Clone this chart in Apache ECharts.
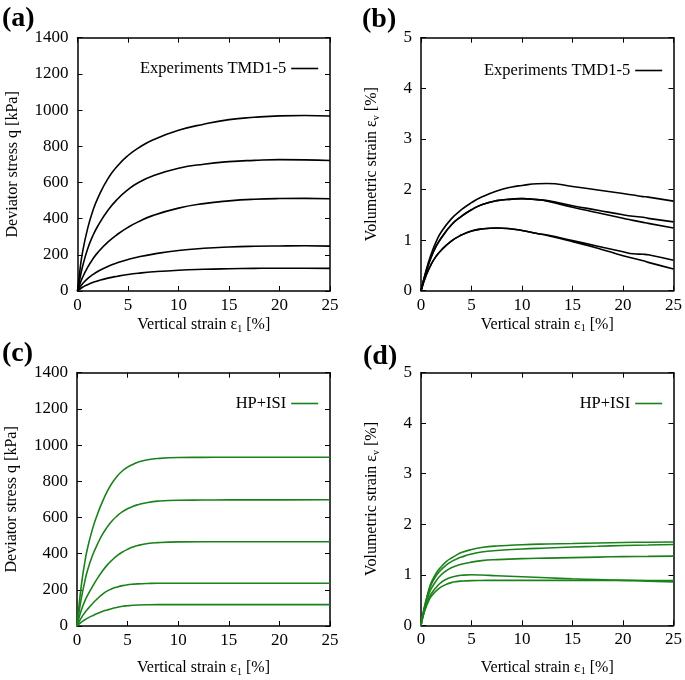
<!DOCTYPE html>
<html>
<head>
<meta charset="utf-8">
<script src="https://cdn.jsdelivr.net/npm/echarts@6/dist/echarts.min.js"></script>
<style>
html,body{margin:0;padding:0;background:#fff;}
#chart{width:685px;height:680px;}
</style>
</head>
<body>
<div id="chart"></div>
<script>
// ---------- data ----------
var strainA = [0,0.25,0.5,1,1.5,2,3,4,5,6,7.5,10,12.5,15,17.5,20,22.5,25];
var qA1 = [0,120,215,345,440,512,620,694,749,790,836,888,922,947,960,968,970,967];
var qA2 = [0,72,135,232,303,358,445,510,560,598,637,678,701,715,722,726,725,721];
var qA3 = [0,40,75,130,175,212,270,315,352,382,418,458,483,498,507,511,512,510];
var qA4 = [0,22,40,68,90,108,136,157,174,188,204,224,236,243,247,249,250,248];
var qA5 = [0,11,21,35,47,56,71,82,91,98,106,115,120,123,125,126,126,125];

var strainB = [0,0.5,1,1.5,2,3,4,5,6,7.5,9,10,11.5,12.5,15,17.5,20,21,22,22.5,25];
var evB1 = [0,0.4,0.72,0.97,1.16,1.42,1.6,1.74,1.85,1.97,2.05,2.08,2.115,2.12,2.06,1.99,1.92,1.89,1.86,1.85,1.77];
var evB2 = [0,0.37,0.66,0.88,1.04,1.3,1.47,1.6,1.7,1.78,1.81,1.82,1.8,1.78,1.68,1.59,1.5,1.47,1.45,1.43,1.36];
var evB3 = [0,0.37,0.66,0.88,1.04,1.3,1.47,1.6,1.7,1.78,1.81,1.82,1.8,1.77,1.65,1.54,1.43,1.39,1.35,1.33,1.24];
var evB4 = [0,0.3,0.52,0.68,0.8,0.98,1.1,1.18,1.22,1.24,1.22,1.19,1.13,1.1,0.99,0.88,0.77,0.73,0.72,0.71,0.6];
var evB5 = [0,0.3,0.52,0.68,0.8,0.98,1.1,1.18,1.22,1.24,1.22,1.19,1.13,1.09,0.97,0.84,0.69,0.64,0.59,0.56,0.43];

var strainC = [0,0.25,0.5,0.75,1,1.5,2,2.5,3,3.5,4,4.5,5,5.5,6,7,8,10,12.5,15,20,25];
var qC1 = [0,140,255,345,420,530,615,685,745,793,830,858,878,893,905,919,926,931,932,933,933,933];
var qC2 = [0,95,175,240,300,385,450,505,548,583,610,632,648,661,670,683,690,695,696,697,697,698];
var qC3 = [0,55,100,135,165,215,262,303,338,366,390,409,424,436,445,456,461,465,466,466,466,466];
var qC4 = [0,28,52,72,90,122,150,175,194,207,216,223,228,231,233,235,236,236,236,236,236,236];
var qC5 = [0,13,24,33,42,56,69,80,89,97,104,109,112,114.5,116,117.5,118,118,118,118,118,118];

var strainD = [0,0.25,0.5,0.75,1,1.5,2,2.5,3,3.5,4,5,6,7.5,10,12.5,15,17.5,20,22.5,25];
var evD1 = [0,0.28,0.5,0.69,0.84,1.03,1.16,1.26,1.33,1.39,1.44,1.5,1.54,1.57,1.595,1.61,1.62,1.63,1.64,1.645,1.65];
var evD2 = [0,0.27,0.48,0.66,0.8,0.98,1.1,1.19,1.26,1.31,1.35,1.41,1.45,1.48,1.51,1.53,1.55,1.565,1.58,1.59,1.6];
var evD3 = [0,0.26,0.45,0.6,0.72,0.88,1.0,1.08,1.14,1.18,1.21,1.25,1.28,1.3,1.32,1.33,1.34,1.35,1.36,1.365,1.37];
var evD4 = [0,0.22,0.38,0.52,0.62,0.75,0.85,0.91,0.95,0.975,0.99,1.0,0.995,0.98,0.96,0.94,0.92,0.905,0.89,0.875,0.86];
var evD5 = [0,0.21,0.36,0.48,0.57,0.68,0.76,0.81,0.845,0.865,0.875,0.885,0.888,0.89,0.89,0.89,0.89,0.89,0.89,0.888,0.885];

var xTicks = {min:0, max:25, interval:5};
var qTicks = {min:0, max:1400, interval:200};
var evTicks = {min:0, max:5, interval:1};

var nameExp = 'Experiments TMD1-5';
var nameSim = 'HP+ISI';
var panelLabels = ['(a)','(b)','(c)','(d)'];

// ---------- styles ----------
var FONT = '"Liberation Serif", "Times New Roman", serif';
var BLACK = '#000000';
var GREEN = '#1b821b';

var grids = [
  {left:77.5, top:37.7, width:252.5, height:253.3},
  {left:421, top:37.7, width:253, height:253},
  {left:77, top:372.7, width:253, height:253.3},
  {left:421, top:372.7, width:253.3, height:252.6}
];

var richName = {
  t:{fontFamily:FONT, fontSize:16, color:BLACK, lineHeight:18},
  e:{fontFamily:FONT, fontSize:16, color:BLACK, lineHeight:18},
  s:{fontFamily:FONT, fontSize:10, color:BLACK, verticalAlign:'bottom', lineHeight:18, padding:[4,0,0,0]}
};
var xName = '{t|Vertical strain }{e|ε}{s|1}{t| [%]}';
var qName = '{t|Deviator stress q [kPa]}';
var evName = '{t|Volumetric strain }{e|ε}{s|v}{t| [%]}';

function axisLine(){ return {show:true, onZero:false, lineStyle:{color:BLACK, width:1.5}}; }
function axisTick(){ return {show:true, inside:true, length:5, lineStyle:{color:BLACK, width:1}}; }
function plain(v){ return String(v); }

var xAxes = [], yAxes = [];
var xGaps = [25, 25, 33, 33];
var yGaps = [56, 40, 56, 40];
for (var p = 0; p < 4; p++) {
  xAxes.push({
    type:'value', gridIndex:p, position:'bottom',
    min:xTicks.min, max:xTicks.max, interval:xTicks.interval,
    axisLine:axisLine(), axisTick:axisTick(), splitLine:{show:false},
    axisLabel:{fontFamily:FONT, fontSize:17, color:BLACK, margin:6, formatter:plain},
    name:xName, nameLocation:'middle', nameGap:xGaps[p],
    nameTextStyle:{rich:richName}
  });
  xAxes.push({
    type:'value', gridIndex:p, position:'top',
    min:xTicks.min, max:xTicks.max, interval:xTicks.interval,
    axisLine:axisLine(), axisTick:axisTick(), splitLine:{show:false},
    axisLabel:{show:false}
  });
  var yt = (p % 2 === 0) ? qTicks : evTicks;
  yAxes.push({
    type:'value', gridIndex:p, position:'left',
    min:yt.min, max:yt.max, interval:yt.interval,
    axisLine:axisLine(), axisTick:axisTick(), splitLine:{show:false},
    axisLabel:{fontFamily:FONT, fontSize:17, color:BLACK, margin:9, formatter:plain},
    name:(p % 2 === 0) ? qName : evName, nameLocation:'middle', nameGap:yGaps[p],
    nameTextStyle:{rich:richName}
  });
  yAxes.push({
    type:'value', gridIndex:p, position:'right',
    min:yt.min, max:yt.max, interval:yt.interval,
    axisLine:axisLine(), axisTick:axisTick(), splitLine:{show:false},
    axisLabel:{show:false}
  });
}

function pairs(xs, ys){ return xs.map(function(v,i){ return [v, ys[i]]; }); }

var panelData = [
  {x:strainA, ys:[qA1,qA2,qA3,qA4,qA5], name:nameExp, color:BLACK},
  {x:strainB, ys:[evB1,evB2,evB3,evB4,evB5], name:nameExp, color:BLACK},
  {x:strainC, ys:[qC1,qC2,qC3,qC4,qC5], name:nameSim, color:GREEN},
  {x:strainD, ys:[evD1,evD2,evD3,evD4,evD5], name:nameSim, color:GREEN}
];

var series = [];
panelData.forEach(function(pd, p){
  pd.ys.forEach(function(y){
    series.push({
      type:'line', name:pd.name, xAxisIndex:2*p, yAxisIndex:2*p,
      data:pairs(pd.x, y), symbol:'none', showSymbol:false,
      smooth:0.5,
      lineStyle:{color:pd.color, width:1.6}, itemStyle:{color:pd.color},
      silent:true
    });
  });
});

var legendPos = [
  {right:366, top:60}, {right:22, top:62}, {right:366, top:395}, {right:22, top:395}
];
var legends = legendPos.map(function(lp, p){
  return {
    data:[panelData[p].name], right:lp.right, top:lp.top, align:'right',
    itemWidth:27, itemHeight:14, selectedMode:false, padding:0,
    itemStyle:{opacity:0},
    lineStyle:{color:panelData[p].color, width:1.6},
    textStyle:{fontFamily:FONT, fontSize:16.5, color:BLACK}
  };
});

var labelPos = [[2,5],[362,6],[2,340],[363,343]];
var graphics = labelPos.map(function(lp, i){
  return {
    type:'text', left:lp[0], top:lp[1],
    style:{text:panelLabels[i], font:'bold 28px "Liberation Serif"', fill:BLACK}
  };
});

var chart = echarts.init(document.getElementById('chart'), null, {renderer:'canvas'});
chart.setOption({
  animation:false,
  backgroundColor:'#ffffff',
  grid:grids,
  xAxis:xAxes,
  yAxis:yAxes,
  legend:legends,
  series:series,
  graphic:graphics
});
</script>
</body>
</html>
